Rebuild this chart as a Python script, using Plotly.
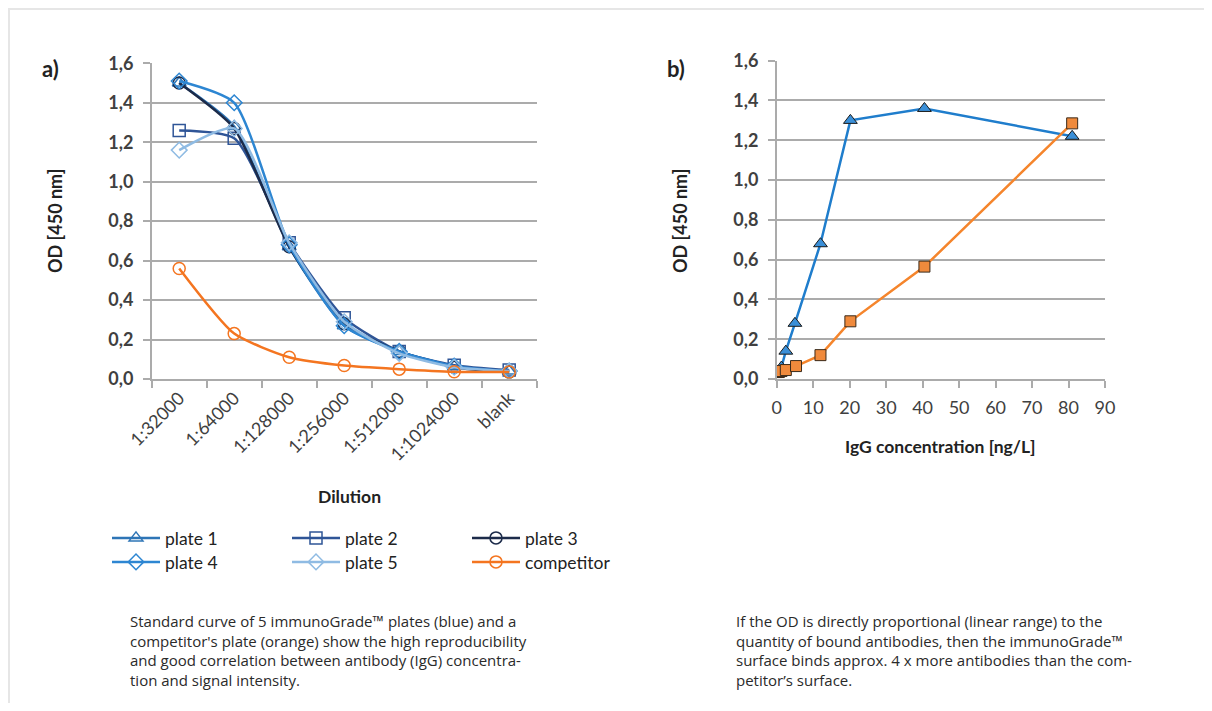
import plotly.graph_objects as go

W, H = 1196, 695

# left panel: standard curves vs dilution
dilutions = ["1:32000", "1:64000", "1:128000", "1:256000", "1:512000", "1:1024000", "blank"]
plate_1 = [1.50, 1.28, 0.67, 0.27, 0.14, 0.065, 0.040]
plate_2 = [1.26, 1.22, 0.69, 0.31, 0.14, 0.070, 0.045]
plate_3 = [1.50, 1.27, 0.67, 0.28, 0.14, 0.060, 0.035]
plate_4 = [1.51, 1.40, 0.68, 0.27, 0.14, 0.065, 0.040]
plate_5 = [1.16, 1.27, 0.69, 0.29, 0.13, 0.060, 0.040]
competitor = [0.56, 0.23, 0.11, 0.068, 0.05, 0.037, 0.035]

# right panel: OD vs IgG concentration
igg_blue = [0, 0.6, 1.3, 2.5, 5.0, 12.0, 20.2, 40.5, 81.0]
od_blue = [0.03, 0.035, 0.06, 0.14, 0.28, 0.68, 1.30, 1.36, 1.22]
igg_orange = [0, 0.6, 1.3, 2.5, 5.3, 12.0, 20.2, 40.5, 81.0]
od_orange = [0.035, 0.035, 0.04, 0.045, 0.065, 0.12, 0.29, 0.565, 1.285]

y_ticks = [0, 0.2, 0.4, 0.6, 0.8, 1.0, 1.2, 1.4, 1.6]

FONT = "Lato"
DARK = "#404040"
GRID = "#ababab"
FRAME = "#e6e6e6"
OFF = 8  # page body margin


def px(x):
    return (x - OFF) / W


def py(y):
    return 1 - (y - OFF) / H


fig = go.Figure()

plates = [
    ("plate 1", plate_1, "#2e75b6", "triangle-up-open", "legend"),
    ("plate 2", plate_2, "#2f5597", "square-open", "legend"),
    ("plate 3", plate_3, "#1c2b4a", "circle-open", "legend"),
    ("plate 4", plate_4, "#2d86d2", "diamond-open", "legend2"),
    ("plate 5", plate_5, "#8fbbe3", "diamond-open", "legend2"),
    ("competitor", competitor, "#f47520", "circle-open", "legend2"),
]
for name, vals, col, sym, leg in plates:
    fig.add_trace(go.Scatter(
        x=dilutions, y=vals, name=name, mode="lines+markers",
        line=dict(color=col, width=2.5, shape="spline", smoothing=0.6),
        marker=dict(symbol=sym, size=12, color=col, line=dict(width=1.5, color=col)),
        xaxis="x", yaxis="y", legend=leg,
    ))

fig.add_trace(go.Scatter(
    x=igg_blue, y=od_blue, mode="lines+markers", showlegend=False,
    line=dict(color="#1f7dcc", width=2.5),
    marker=dict(symbol="triangle-up", size=12, color="#3a8fd8", line=dict(width=1, color="#1a1a1a")),
    xaxis="x2", yaxis="y2",
))
fig.add_trace(go.Scatter(
    x=igg_orange, y=od_orange, mode="lines+markers", showlegend=False,
    line=dict(color="#f5852c", width=2.5),
    marker=dict(symbol="square", size=11, color="#f08a3c", line=dict(width=1, color="#3a2a1a")),
    xaxis="x2", yaxis="y2",
))

yaxis_style = dict(
    range=[0, 1.6], tickvals=y_ticks, tickformat=".1f",
    showgrid=True, gridcolor=GRID, gridwidth=1.5,
    showline=True, linecolor=GRID, linewidth=1.5, zeroline=False,
    ticks="outside", ticklen=7, tickcolor=GRID, tickwidth=1.5, ticklabelstandoff=6,
    tickfont=dict(family=FONT, size=18, color=DARK, weight="bold"),
)
legend_style = dict(
    orientation="h", xanchor="left", yanchor="top",
    entrywidth=117, entrywidthmode="pixels", bgcolor="rgba(0,0,0,0)",
    font=dict(family=FONT, size=17.5, color="#222222"), itemwidth=48,
)

fig.update_layout(
    width=W, height=H,
    margin=dict(l=0, r=0, t=0, b=0, autoexpand=False),
    paper_bgcolor="white",
    plot_bgcolor="rgba(0,0,0,0)",
    separators=",.",
    font=dict(family=FONT, color=DARK),
    xaxis=dict(
        domain=[px(151.7), px(536.7)], anchor="y",
        type="category", range=[-0.5, 6.5], tickson="boundaries",
        showgrid=False, showline=True, linecolor=GRID, linewidth=1.5,
        ticks="outside", ticklen=7, tickcolor=GRID, tickwidth=1.5,
        tickangle=-45, tickfont=dict(family=FONT, size=18, color=DARK),
    ),
    yaxis=dict(domain=[py(379), py(63.3)], anchor="x", **yaxis_style),
    xaxis2=dict(
        domain=[px(776.7), px(1105)], anchor="y2",
        range=[0, 90], dtick=10,
        showgrid=False, showline=True, linecolor=GRID, linewidth=1.5, zeroline=False,
        ticks="outside", ticklen=7, tickcolor=GRID, tickwidth=1.5, ticklabelstandoff=5,
        tickfont=dict(family=FONT, size=18, color=DARK),
    ),
    yaxis2=dict(domain=[py(379), py(60.7)], anchor="x2", **yaxis_style),
    legend=dict(x=px(107), y=py(520), **legend_style),
    legend2=dict(x=px(107), y=py(544), **legend_style),
)

# grey frame strips along top and left
fig.add_shape(type="rect", xref="paper", yref="paper", x0=0, x1=1, y0=py(10), y1=1,
              fillcolor=FRAME, line=dict(width=0), layer="below")
fig.add_shape(type="rect", xref="paper", yref="paper", x0=0, x1=px(10), y0=0, y1=1,
              fillcolor=FRAME, line=dict(width=0), layer="below")

annots = [
    dict(x=50, y=68, text="<b>a)</b>", size=22),
    dict(x=676, y=68, text="<b>b)</b>", size=22),
    dict(x=349, y=496, text="<b>Dilution</b>", size=17.5),
    dict(x=940, y=446, text="<b>IgG concentration [ng/L]</b>", size=17.5),
]
for a in annots:
    fig.add_annotation(xref="paper", yref="paper", x=px(a["x"]), y=py(a["y"]), text=a["text"],
                       xanchor="center", yanchor="middle", showarrow=False,
                       font=dict(family=FONT, size=a["size"], color="#222222"))

for xp in (55, 680):
    fig.add_annotation(xref="paper", yref="paper", x=px(xp), y=py(221), text="<b>OD [450 nm]</b>",
                       xanchor="center", yanchor="middle", textangle=-90, showarrow=False,
                       font=dict(family=FONT, size=18, color="#222222"))

cap_left = ("Standard curve of 5 immunoGrade™ plates (blue) and a<br>"
            "competitor's plate (orange) show the high reproducibility<br>"
            "and good correlation between antibody (IgG) concentra-<br>"
            "tion and signal intensity.")
cap_right = ("If the OD is directly proportional (linear range) to the<br>"
             "quantity of bound antibodies, then the immunoGrade™<br>"
             "surface binds approx. 4 x more antibodies than the com-<br>"
             "petitor’s surface.")
for xp, txt in ((128, cap_left), (734, cap_right)):
    fig.add_annotation(xref="paper", yref="paper", x=px(xp), y=py(609), text=txt,
                       xanchor="left", yanchor="top", align="left", showarrow=False,
                       font=dict(family="Open Sans", size=15, color="#2a2a2a"))

fig.write_html("out.html")
